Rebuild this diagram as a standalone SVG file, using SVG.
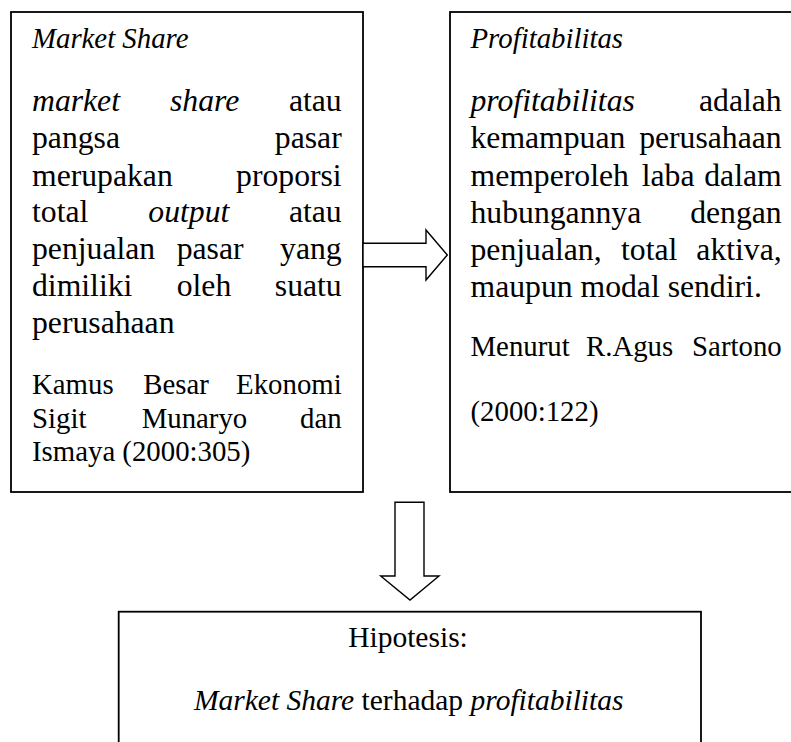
<svg xmlns="http://www.w3.org/2000/svg" width="791" height="742" viewBox="0 0 791 742">
<style>
.box{fill:#fff;stroke:#000;stroke-width:1.8}
.arr{fill:#fff;stroke:#000;stroke-width:1.4;stroke-linejoin:miter}
text{font-family:"Liberation Serif","Times New Roman",serif;font-size:31.7px;fill:#000}
.s{font-size:28.8px}
.h{font-size:29.5px}
.i{font-style:italic}
.e{text-anchor:end}
.m{text-anchor:middle}
</style>
<rect width="791" height="742" fill="#fff"/>
<g id="market-share">
<rect class="box" x="11" y="12" width="352" height="480"/>
<text x="32" y="48.3" class="i s">Market Share</text>
<text x="32" y="110.7" class="i">market</text><text x="170" y="110.7" class="i">share</text><text x="341.7" y="110.7" class="e">atau</text>
<text x="32" y="148.3">pangsa</text><text x="341.7" y="148.3" class="e">pasar</text>
<text x="32" y="185.7">merupakan</text><text x="341.7" y="185.7" class="e">proporsi</text>
<text x="32" y="221.7">total</text><text x="148.3" y="221.7" class="i">output</text><text x="341.7" y="221.7" class="e">atau</text>
<text x="32" y="259.3">penjualan</text><text x="176.7" y="259.3">pasar</text><text x="341.7" y="259.3" class="e">yang</text>
<text x="32" y="296">dimiliki</text><text x="176.7" y="296">oleh</text><text x="341.7" y="296" class="e">suatu</text>
<text x="32" y="333.3">perusahaan</text>
<text x="32" y="394.3" class="s">Kamus</text><text x="143.3" y="394.3" class="s">Besar</text><text x="341.7" y="394.3" class="s e">Ekonomi</text>
<text x="32" y="427.5" class="s">Sigit</text><text x="141.7" y="427.5" class="s">Munaryo</text><text x="341.7" y="427.5" class="s e">dan</text>
<text x="32" y="461" class="s">Ismaya (2000:305)</text>
</g>
<g id="profitabilitas">
<rect class="box" x="450" y="12" width="360" height="480"/>
<text x="470.5" y="48.3" class="i s">Profitabilitas</text>
<text x="470.5" y="110.7" class="i">profitabilitas</text><text x="781.7" y="110.7" class="e">adalah</text>
<text x="470.5" y="148.3">kemampuan</text><text x="781.7" y="148.3" class="e">perusahaan</text>
<text x="470.5" y="185.7">memperoleh</text><text x="641.7" y="185.7">laba</text><text x="781.7" y="185.7" class="e">dalam</text>
<text x="470.5" y="222.5">hubungannya</text><text x="781.7" y="222.5" class="e">dengan</text>
<text x="470.5" y="259.5">penjualan,</text><text x="621" y="259.5">total</text><text x="781.7" y="259.5" class="e">aktiva,</text>
<text x="470.5" y="296.5">maupun modal sendiri.</text>
<text x="470.5" y="356" class="s">Menurut</text><text x="586" y="356" class="s">R.Agus</text><text x="781.7" y="356" class="s e">Sartono</text>
<text x="470.5" y="420.5" class="s">(2000:122)</text>
</g>
<g id="hipotesis">
<rect class="box" x="118.7" y="611.7" width="582.3" height="160"/>
<text x="408" y="647.3" class="m h">Hipotesis:</text>
<text x="408.7" y="710" class="m h"><tspan class="i">Market Share</tspan> terhadap <tspan class="i">profitabilitas</tspan></text>
</g>
<g id="connectors">
<polygon class="arr" points="363,243.3 426,243.3 426,230 447.3,255 426,280 426,266.7 363,266.7"/>
<polygon class="arr" points="395,502.3 424,502.3 424,576 439,576 410,600 380.7,576 395,576"/>
</g>
</svg>
